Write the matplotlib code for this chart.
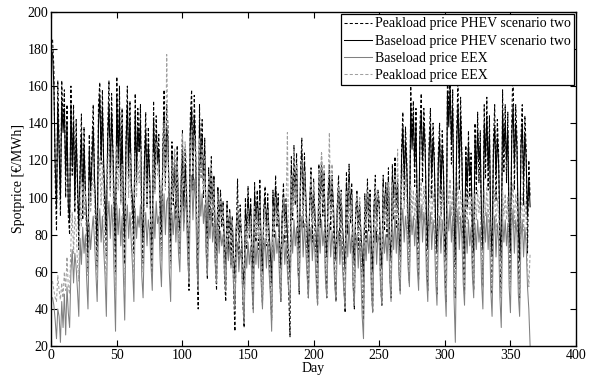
import numpy as np
import matplotlib
matplotlib.use("Agg")
import matplotlib.pyplot as plt

# daily prices, one row per week (days 1..364) plus day 365
peak_phev_weeks = [
    [185, 170, 110, 82, 163, 130, 90], [163, 140, 158, 100, 150, 90, 80],
    [160, 112, 150, 92, 142, 104, 72], [118, 145, 88, 138, 100, 82, 60],
    [134, 96, 128, 150, 108, 86, 62], [150, 162, 118, 158, 112, 92, 68],
    [136, 163, 104, 156, 126, 88, 60], [165, 116, 160, 98, 148, 86, 64],
    [132, 160, 110, 152, 102, 90, 70], [156, 108, 148, 124, 150, 82, 64],
    [120, 146, 96, 138, 110, 76, 58], [152, 104, 144, 118, 134, 88, 68],
    [124, 158, 106, 150, 138, 84, 64], [130, 96, 126, 88, 128, 82, 70],
    [106, 136, 86, 126, 100, 72, 50], [144, 158, 104, 155, 130, 70, 40],
    [150, 110, 142, 100, 132, 76, 56], [116, 88, 122, 84, 112, 66, 50],
    [106, 76, 104, 84, 98, 58, 44], [98, 70, 94, 64, 90, 50, 28],
    [82, 110, 66, 96, 78, 44, 30], [100, 72, 106, 78, 100, 56, 40],
    [108, 76, 104, 72, 110, 58, 42], [94, 106, 74, 102, 70, 52, 34],
    [104, 78, 112, 84, 102, 60, 44], [90, 108, 76, 100, 68, 48, 25],
    [122, 88, 128, 96, 124, 66, 48], [114, 132, 84, 124, 94, 64, 46],
    [98, 116, 76, 110, 82, 60, 42], [118, 84, 124, 90, 114, 60, 46],
    [102, 118, 82, 112, 88, 58, 44], [96, 112, 74, 104, 72, 54, 38],
    [114, 80, 118, 86, 108, 56, 40], [92, 104, 72, 100, 70, 50, 34],
    [102, 76, 110, 82, 104, 54, 38], [96, 112, 76, 104, 98, 54, 42],
    [112, 82, 108, 78, 116, 60, 46], [118, 88, 122, 84, 112, 64, 50],
    [126, 146, 98, 138, 120, 70, 54], [160, 132, 152, 106, 148, 74, 56],
    [138, 156, 108, 148, 130, 70, 50], [130, 148, 100, 140, 122, 66, 48],
    [124, 140, 90, 136, 116, 62, 44], [168, 144, 175, 118, 158, 70, 46],
    [134, 165, 104, 154, 124, 66, 48], [128, 94, 136, 100, 124, 64, 50],
    [140, 102, 146, 108, 136, 68, 52], [150, 110, 154, 104, 144, 66, 48],
    [130, 150, 98, 142, 124, 64, 46], [158, 114, 150, 108, 146, 68, 50],
    [140, 175, 104, 150, 132, 64, 46], [132, 150, 96, 144, 126, 70, 120],
    [100],
]
base_phev_weeks = [
    [178, 160, 118, 95, 150, 125, 100], [152, 135, 148, 112, 140, 96, 88],
    [150, 118, 140, 100, 132, 110, 84], [112, 134, 96, 128, 104, 88, 70],
    [126, 104, 118, 138, 110, 92, 74], [140, 155, 122, 148, 118, 100, 80],
    [130, 150, 112, 146, 124, 96, 72], [154, 120, 148, 106, 138, 94, 78],
    [128, 150, 118, 142, 108, 98, 82], [146, 114, 138, 126, 140, 90, 76],
    [118, 136, 104, 128, 112, 84, 70], [142, 110, 134, 120, 126, 96, 80],
    [120, 146, 112, 138, 130, 92, 76], [124, 102, 118, 96, 120, 90, 82],
    [108, 126, 96, 118, 104, 84, 66], [136, 148, 110, 144, 124, 82, 58],
    [140, 116, 134, 108, 126, 90, 72], [112, 98, 116, 94, 110, 80, 66],
    [104, 88, 100, 92, 96, 74, 62], [96, 82, 92, 78, 88, 68, 56],
    [84, 92, 76, 88, 80, 62, 52], [94, 82, 100, 86, 96, 72, 58],
    [102, 88, 98, 84, 104, 74, 60], [92, 100, 86, 96, 82, 70, 54],
    [100, 88, 106, 92, 98, 76, 62], [90, 102, 86, 96, 80, 68, 56],
    [116, 98, 122, 104, 118, 84, 70], [110, 124, 96, 118, 102, 82, 66],
    [96, 110, 88, 104, 92, 78, 64], [112, 96, 118, 100, 110, 80, 68],
    [100, 112, 94, 108, 98, 78, 66], [94, 106, 88, 100, 84, 74, 60],
    [108, 92, 112, 96, 104, 76, 64], [90, 100, 84, 96, 82, 70, 56],
    [98, 88, 104, 92, 100, 74, 60], [94, 106, 88, 100, 96, 72, 62],
    [108, 94, 104, 90, 110, 78, 66], [112, 100, 116, 96, 108, 82, 68],
    [120, 138, 110, 130, 116, 88, 74], [150, 126, 144, 118, 140, 92, 76],
    [132, 146, 120, 140, 126, 90, 72], [124, 138, 112, 132, 118, 86, 70],
    [118, 132, 104, 128, 112, 82, 66], [156, 138, 160, 130, 148, 90, 64],
    [128, 150, 118, 144, 120, 86, 68], [122, 106, 128, 112, 118, 84, 70],
    [132, 114, 136, 120, 128, 88, 72], [140, 122, 144, 116, 134, 86, 68],
    [124, 138, 112, 132, 118, 84, 66], [146, 126, 140, 120, 136, 88, 70],
    [132, 150, 118, 140, 126, 84, 66], [126, 140, 110, 134, 120, 90, 110],
    [95],
]
base_eex_weeks = [
    [46, 42, 34, 24, 40, 36, 22], [44, 30, 48, 26, 52, 38, 30],
    [60, 72, 54, 70, 62, 50, 36], [78, 64, 84, 70, 80, 56, 40],
    [86, 72, 82, 90, 76, 60, 44], [82, 94, 76, 90, 72, 58, 36],
    [88, 98, 78, 96, 84, 56, 28], [96, 80, 94, 74, 90, 58, 34],
    [84, 96, 78, 92, 76, 62, 44], [94, 78, 90, 84, 96, 58, 46],
    [80, 92, 74, 88, 82, 64, 50], [94, 78, 98, 86, 90, 66, 52],
    [86, 102, 80, 98, 100, 60, 44], [92, 80, 96, 76, 92, 70, 60],
    [90, 104, 82, 100, 92, 68, 54], [100, 112, 88, 110, 98, 66, 50],
    [106, 90, 102, 86, 96, 70, 58], [90, 78, 94, 76, 86, 64, 54],
    [84, 70, 82, 74, 80, 60, 50], [78, 66, 76, 62, 72, 52, 40],
    [68, 76, 60, 72, 66, 46, 32], [72, 62, 76, 64, 74, 52, 38],
    [78, 64, 76, 62, 80, 54, 40], [70, 78, 62, 76, 60, 48, 28],
    [78, 66, 82, 70, 78, 56, 44], [72, 80, 64, 76, 60, 50, 44],
    [84, 70, 88, 74, 84, 60, 50], [80, 90, 68, 86, 72, 58, 46],
    [74, 84, 66, 80, 70, 54, 42], [84, 70, 88, 74, 82, 56, 46],
    [76, 86, 68, 82, 72, 54, 44], [74, 82, 64, 78, 62, 50, 40],
    [82, 68, 86, 70, 80, 52, 42], [72, 80, 62, 78, 60, 36, 24],
    [78, 66, 82, 70, 80, 50, 38], [74, 84, 64, 80, 76, 52, 42],
    [84, 70, 80, 66, 86, 56, 44], [86, 72, 90, 70, 86, 58, 48],
    [84, 94, 76, 90, 82, 62, 52], [92, 80, 90, 74, 88, 62, 50],
    [86, 96, 76, 92, 84, 58, 44], [82, 92, 72, 88, 80, 56, 42],
    [80, 90, 70, 88, 78, 52, 36], [94, 82, 96, 76, 90, 46, 22],
    [80, 94, 72, 90, 78, 54, 42], [84, 70, 88, 74, 84, 58, 46],
    [86, 72, 88, 76, 84, 54, 40], [90, 76, 92, 72, 88, 50, 36],
    [78, 90, 68, 86, 76, 46, 30], [90, 76, 88, 74, 86, 52, 38],
    [82, 94, 70, 88, 80, 48, 36], [78, 88, 68, 84, 74, 52, 40],
    [20],
]
peak_eex_weeks = [
    [55, 50, 46, 44, 58, 50, 45], [54, 46, 60, 50, 68, 52, 48],
    [76, 92, 70, 90, 84, 64, 55], [100, 84, 108, 90, 104, 70, 58],
    [108, 92, 104, 114, 98, 72, 56], [106, 122, 96, 120, 94, 70, 52],
    [116, 132, 100, 128, 112, 66, 48], [128, 104, 124, 96, 118, 68, 52],
    [110, 128, 100, 124, 98, 72, 56], [124, 100, 120, 108, 126, 68, 60],
    [102, 120, 94, 114, 106, 76, 64], [124, 102, 130, 112, 118, 78, 66],
    [112, 140, 104, 177, 130, 72, 62], [120, 102, 126, 98, 120, 82, 70],
    [116, 134, 104, 130, 120, 80, 66], [126, 136, 112, 134, 124, 80, 64],
    [132, 110, 128, 104, 122, 82, 70], [112, 96, 118, 92, 108, 76, 64],
    [102, 86, 100, 90, 96, 70, 58], [94, 80, 92, 76, 88, 62, 50],
    [82, 94, 74, 90, 80, 56, 44], [88, 76, 94, 80, 90, 60, 50],
    [96, 80, 94, 78, 98, 62, 48], [88, 96, 76, 94, 74, 56, 42],
    [96, 82, 100, 86, 96, 64, 52], [90, 100, 80, 96, 135, 62, 56],
    [112, 92, 126, 98, 118, 72, 62], [104, 120, 88, 114, 96, 68, 58],
    [98, 112, 86, 108, 92, 64, 54], [114, 92, 124, 98, 118, 66, 58],
    [104, 135, 90, 118, 96, 64, 56], [94, 106, 84, 102, 82, 60, 50],
    [104, 86, 108, 90, 102, 62, 52], [92, 102, 80, 100, 78, 52, 42],
    [98, 84, 104, 88, 100, 58, 48], [94, 106, 82, 102, 98, 60, 50],
    [106, 88, 102, 84, 108, 64, 52], [108, 90, 112, 88, 126, 68, 56],
    [104, 118, 94, 112, 100, 72, 60], [106, 92, 104, 88, 102, 72, 60],
    [98, 110, 88, 106, 96, 68, 56], [96, 106, 86, 102, 94, 64, 52],
    [94, 106, 84, 104, 92, 62, 48], [108, 96, 110, 90, 104, 64, 52],
    [94, 108, 86, 104, 92, 62, 52], [100, 86, 104, 90, 100, 68, 56],
    [102, 88, 104, 92, 100, 64, 52], [104, 90, 106, 86, 102, 62, 50],
    [92, 104, 82, 100, 90, 58, 46], [104, 90, 102, 88, 100, 62, 50],
    [96, 108, 84, 102, 94, 58, 48], [92, 102, 82, 98, 88, 62, 52],
    [70],
]

peak_phev = np.concatenate(peak_phev_weeks)
base_phev = np.concatenate(base_phev_weeks)
base_eex = np.concatenate(base_eex_weeks)
peak_eex = np.concatenate(peak_eex_weeks)
days = np.arange(1, len(base_eex) + 1)

plt.rcParams['font.family'] = ['Liberation Serif', 'DejaVu Serif']
plt.rcParams['font.size'] = 10

fig = plt.figure(figsize=(5.89, 3.82), dpi=100)
ax = fig.add_axes([0.087, 0.094, 0.891, 0.875])

ax.plot(days, peak_phev, color='black', lw=0.75, ls=(0, (3, 2)),
        label='Peakload price PHEV scenario two')
ax.plot(days, base_phev, color='black', lw=0.75,
        label='Baseload price PHEV scenario two')
ax.plot(days, base_eex, color='#808080', lw=0.75, label='Baseload price EEX')
ax.plot(days, peak_eex, color='#a0a0a0', lw=0.75, ls=(0, (3, 2)),
        label='Peakload price EEX')

ax.set_xlim(0, 400)
ax.set_ylim(20, 200)
ax.set_xticks(np.arange(0, 401, 50))
ax.set_yticks(np.arange(20, 201, 20))
ax.tick_params(direction='in', top=True, right=True, length=4, width=0.8, pad=2)
for s in ax.spines.values():
    s.set_linewidth(1.0)

ax.set_xlabel('Day', labelpad=0)
ax.set_ylabel('Spotprice [€/MWh]', labelpad=2)

leg = ax.legend(loc='upper right', fancybox=False, edgecolor='black', framealpha=1,
                handlelength=2.0, handletextpad=0.2, labelspacing=0.3,
                borderpad=0.25, borderaxespad=0.15)
leg.get_frame().set_linewidth(0.9)

fig.savefig('out.png', dpi=100)
